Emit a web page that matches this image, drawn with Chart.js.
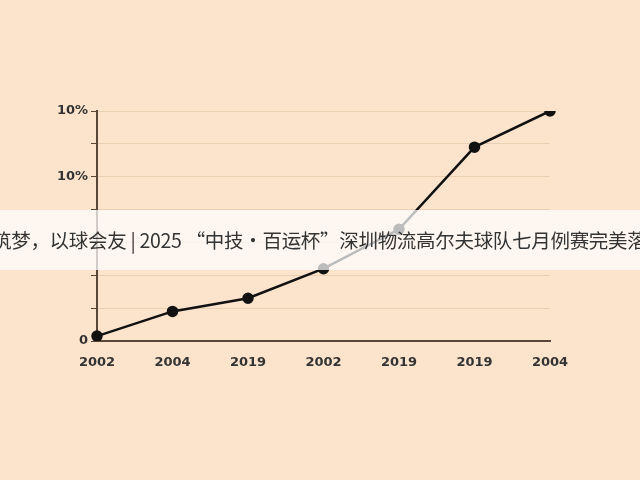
<!DOCTYPE html>
<html><head><meta charset="utf-8">
<script src="https://cdn.jsdelivr.net/npm/chart.js@4"></script>
<style>
html,body{margin:0;padding:0;background:#fbe4cd;}
#wrap{position:relative;width:640px;height:480px;overflow:hidden;background:#fbe3cc;}
canvas{position:absolute;left:0;top:0;}
#banner{position:absolute;left:0;top:210px;width:640px;height:60px;background:rgba(255,255,255,0.72);overflow:hidden;white-space:nowrap;font-family:"Noto Sans CJK SC",sans-serif;font-size:19.5px;line-height:60px;color:#333;letter-spacing:-0.3px;}
#banner span{position:absolute;left:-8px;}
</style></head><body>
<div id="wrap"><canvas id="c" width="640" height="480"></canvas>
<div id="banner"><span>筑梦，以球会友 | 2025 “中技·百运杯”深圳物流高尔夫球队七月例赛完美落幕</span></div></div>
<script>
const categories=["2002","2004","2019","2002","2019","2019","2004"];
const values=[1.5,9,13,22,34,59,70];
const tickLabels={70:"10%",50:"10%",0:"0"};
new Chart(document.getElementById('c'),{type:'line',
data:{labels:categories,datasets:[{data:values,borderColor:'#111',backgroundColor:'#111',borderWidth:2.5,pointRadius:4.5,tension:0}]},
options:{responsive:false,animation:false,
layout:{padding:{left:0,right:90,top:111,bottom:109}},
plugins:{legend:{display:false},tooltip:{enabled:false}},
scales:{
x:{offset:false,grid:{display:false,drawTicks:true},border:{color:'#5a4636',width:2},
ticks:{color:'#333',font:{family:'DejaVu Sans',size:13,weight:'600'},padding:6},
afterFit(s){s.height=30;}},
y:{min:0,max:70,grid:{color:'rgba(230,200,170,0.7)',tickLength:6,tickColor:'#5a4636'},border:{color:'#5a4636',width:2},
ticks:{stepSize:10,color:'#333',font:{family:'DejaVu Sans',size:13,weight:'600'},callback:v=>tickLabels[v]||""},
afterFit(s){s.width=97;}}
}}});
</script></body></html>
